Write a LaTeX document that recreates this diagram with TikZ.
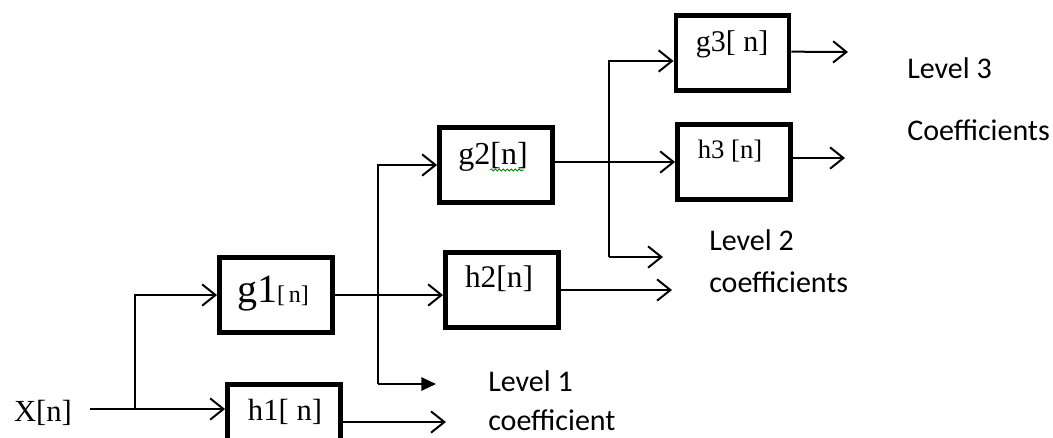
\documentclass[tikz,border=0pt]{standalone}
\usepackage{fontspec}
\setmainfont{Liberation Serif}
\newfontfamily\lblfont{Carlito}
\usetikzlibrary{arrows.meta,decorations.pathmorphing}
\begin{document}
\begin{tikzpicture}[x=0.75pt,y=-0.75pt,
  blk/.style={draw, line width=3.4pt, minimum width=85pt, minimum height=56.5pt, inner sep=0pt},
  conn/.style={line width=1.5pt, -{Straight Barb[length=10pt,width=16pt,line width=1.5pt]}},
  fconn/.style={line width=1.5pt, -{Triangle[length=11pt,width=10pt]}},
  lbl/.style={font=\lblfont\fontsize{22.5pt}{24pt}\selectfont, anchor=west, inner sep=0pt},
  btxt/.style={inner sep=0pt}]
\clip (0,0) rectangle (1053,437);
\fill[white] (0,0) rectangle (1053,437);

% boxes
\node[blk] (g1) at (276,295) {};
\node[blk] (h1) at (284,422) {};
\node[blk] (g2) at (496,165) {};
\node[blk] (h2) at (502,290) {};
\node[blk] (g3) at (732.5,53) {};
\node[blk] (h3) at (734,162) {};

% box texts
\node[btxt] (tg1) at (273,294) {\fontsize{30pt}{32pt}\selectfont g1\fontsize{18pt}{20pt}\selectfont[\,n]};
\node[btxt] (th1) at (285,412) {\fontsize{23pt}{26pt}\selectfont h1[ n]};
\node[btxt] (tg2) at (493,157) {\fontsize{24pt}{26pt}\selectfont g2[n]};
\node[btxt] (th2) at (499,279) {\fontsize{23.5pt}{26pt}\selectfont h2[n]};
\node[btxt] (tg3) at (732,44) {\fontsize{22.5pt}{24pt}\selectfont g3[ n]};
\node[btxt] (th3) at (730,151) {\fontsize{20pt}{22pt}\selectfont h3 [n]};
\draw[green!55!black, line width=0.6pt, decorate, decoration={snake, amplitude=0.8pt, segment length=3pt}]
  (490,170) -- (524,170);

% input
\node[btxt] (x) at (43,413) {\fontsize{23pt}{26pt}\selectfont X[n]};
\coordinate (s) at (90,409);
\coordinate (b1) at (135,409);
\draw[conn] (s) -- (s -| h1.west);
\draw[conn] (b1) |- (g1.west);
\draw[conn] (h1.east) -- ++(103,0) coordinate (o1);

% level 1
\coordinate (v1) at (378,384);
\draw[conn] (v1) |- (g2.west);
\draw[fconn] (v1) -- (436,384) coordinate (a1);
\draw[conn] (g1.east) -- (g1.east -| h2.west);
\draw[conn] (h2.east) -- (672,290) coordinate (o2);

% level 2
\coordinate (v2) at (609,257);
\draw[conn] (v2) |- ([yshift=-6pt]g3.west);
\draw[conn] (v2) -- (663,257) coordinate (a2);
\draw[conn] (g2.east |- h3.west) -- (h3.west);
\draw[conn] ([yshift=1pt]g3.east) -- (848,52) coordinate (o3);
\draw[conn] ([yshift=3pt]h3.east) -- (845,158) coordinate (o4);

% labels
\node[lbl] (l1a) at (488,381) {Level 1};
\node[lbl] (l1b) at (488,420) {coefficient};
\node[lbl] (l2a) at (709,240) {Level 2};
\node[lbl] (l2b) at (709,282) {coefficients};
\node[lbl] (l3a) at (907,68) {Level 3};
\node[lbl] (l3b) at (907,130) {Coefficients};
\end{tikzpicture}
\end{document}
